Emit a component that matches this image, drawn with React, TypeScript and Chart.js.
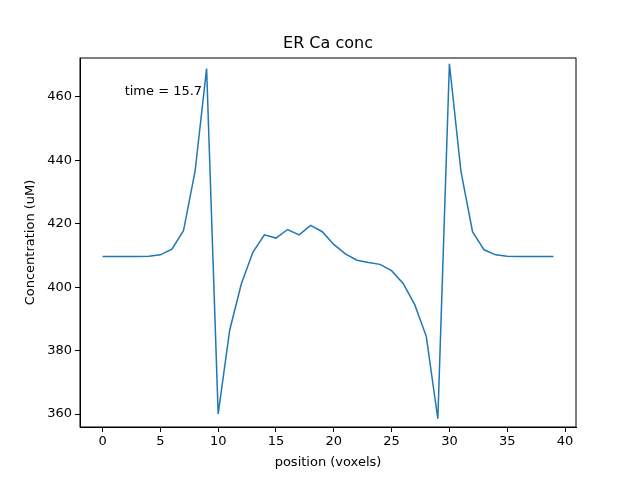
import React, { useEffect, useRef } from 'react';
import { Chart, registerables } from 'chart.js';

Chart.register(...registerables);

const positions = Array.from({ length: 40 }, (_, i) => i);
const concentration = [
  409.7, 409.7, 409.7, 409.7, 409.8, 410.2, 412, 417.8, 436.5, 469,
  360, 386.5, 401, 411, 416.5, 415.5, 418.2, 416.5, 419.5, 417.5,
  413.5, 410.5, 408.5, 407.8, 407.2, 405.2, 401.2, 394.5, 384.5, 358.5,
  470.5, 436.5, 417.5, 411.8, 410.2, 409.8, 409.7, 409.7, 409.7, 409.7,
];
const titleText = 'ER Ca conc';
const annotation = 'time = 15.7';
const xLabel = 'position (voxels)';
const yLabel = 'Concentration (uM)';
const FONT = 'DejaVu Sans';

const frame = {
  id: 'frame',
  afterDraw(chart: any) {
    const { ctx, chartArea: a } = chart;
    ctx.save();
    ctx.strokeStyle = '#000';
    ctx.lineWidth = 1;
    ctx.strokeRect(a.left, a.top, a.right - a.left, a.bottom - a.top);
    ctx.fillStyle = '#000';
    ctx.font = `16px ${FONT}`;
    ctx.textAlign = 'center';
    ctx.textBaseline = 'bottom';
    ctx.fillText(titleText, (a.left + a.right) / 2, a.top - 6);
    ctx.font = `13px ${FONT}`;
    ctx.textBaseline = 'middle';
    ctx.fillText(xLabel, (a.left + a.right) / 2, 463);
    ctx.save();
    ctx.translate(31, (a.top + a.bottom) / 2);
    ctx.rotate(-Math.PI / 2);
    ctx.fillText(yLabel, 0, 0);
    ctx.restore();
    ctx.textAlign = 'left';
    ctx.fillText(annotation, a.left + 0.09 * (a.right - a.left), a.top + 0.09 * (a.bottom - a.top));
    ctx.restore();
  },
};

const App: React.FC = () => {
  const ref = useRef<HTMLCanvasElement>(null);
  useEffect(() => {
    document.body.style.margin = '0';
    if (!ref.current) return;
    const tickFont = { family: FONT, size: 13 };
    const chart = new Chart(ref.current, {
      type: 'line',
      data: {
        datasets: [{
          data: positions.map((x, i) => ({ x, y: concentration[i] })),
          borderColor: '#1f77b4',
          borderWidth: 1.5,
          pointRadius: 0,
          tension: 0,
        }],
      },
      options: {
        responsive: false,
        animation: false,
        layout: { padding: { top: 58, right: 64, left: 0, bottom: 0 } },
        plugins: { legend: { display: false }, tooltip: { enabled: false } },
        scales: {
          x: {
            type: 'linear', min: -1.95, max: 40.95,
            afterBuildTicks: (s: any) => { s.ticks = [0, 5, 10, 15, 20, 25, 30, 35, 40].map(v => ({ value: v })); },
            afterFit: (s: any) => { s.height = 53; },
            grid: { drawOnChartArea: false, tickLength: 5, color: '#000' },
            border: { color: '#000' },
            ticks: { color: '#000', font: tickFont, maxRotation: 0, padding: 2 },
          },
          y: {
            min: 355.9, max: 472.3,
            afterBuildTicks: (s: any) => { s.ticks = [360, 380, 400, 420, 440, 460].map(v => ({ value: v })); },
            afterFit: (s: any) => { s.width = 80; },
            grid: { drawOnChartArea: false, tickLength: 5, color: '#000' },
            border: { color: '#000' },
            ticks: { color: '#000', font: tickFont, padding: 3 },
          },
        },
      },
      plugins: [frame],
    } as any);
    return () => chart.destroy();
  }, []);
  return <canvas ref={ref} width={640} height={480} style={{ display: 'block' }} />;
};

export default App;
